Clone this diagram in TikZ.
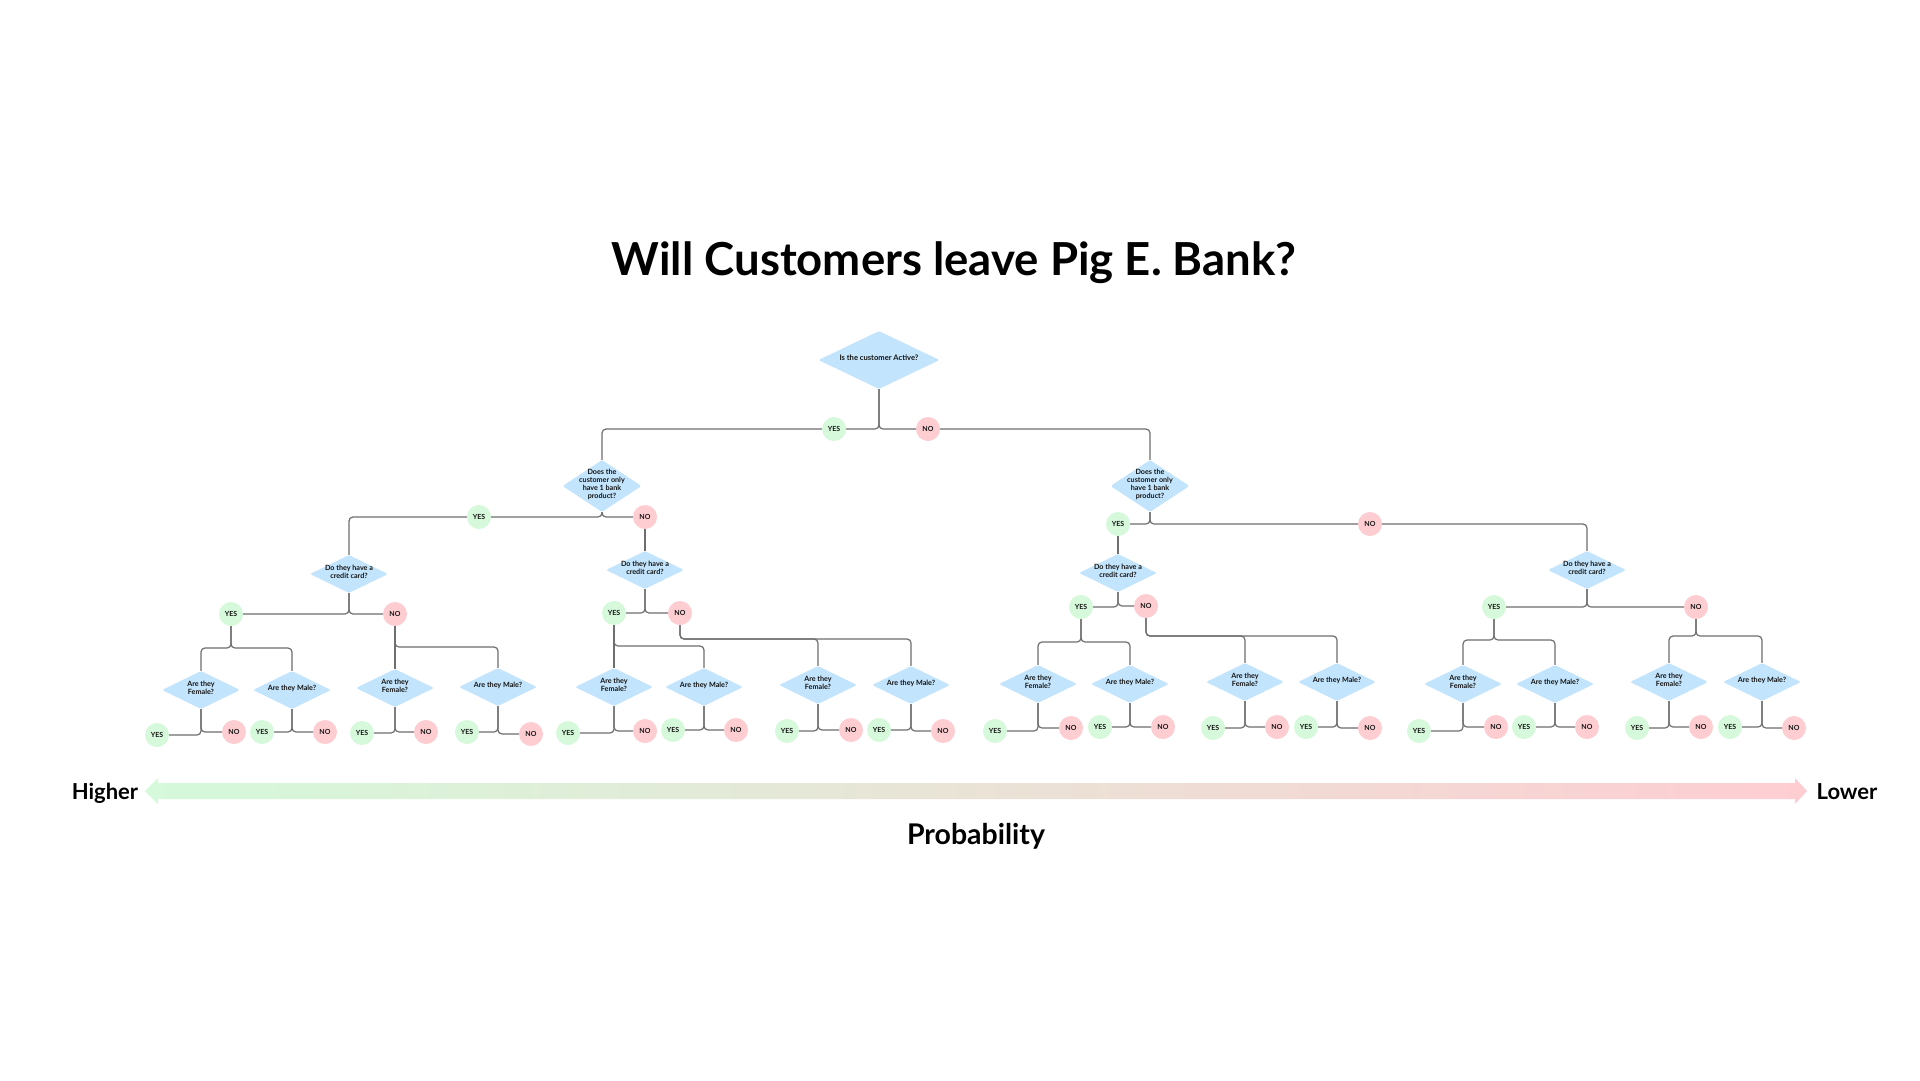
\documentclass[tikz,border=0pt]{standalone}
\usepackage{fontspec}
\setmainfont{Lato}
\usetikzlibrary{shapes.geometric}
\pgfdeclarelayer{background}
\pgfdeclarelayer{canvas}
\pgfsetlayers{canvas,background,main}
\definecolor{qblue}{HTML}{C2E4FC}
\definecolor{yesg}{HTML}{D5F9DA}
\definecolor{nopk}{HTML}{FECDD2}
\definecolor{lgrey}{HTML}{6E6E6E}
\definecolor{ink}{HTML}{141414}
\newcommand\qtxt[1]{\makebox[0pt]{\smash{\raisebox{-0.7pt}{\begin{tabular}{@{}c@{}}#1\end{tabular}}}}}
\newcommand\qfont{\fontsize{7.2}{8.2}\selectfont\bfseries}
\newcommand\rfont{\fontsize{7.6}{8.6}\selectfont\bfseries}
\newcommand\cfont{\fontsize{7}{8}\selectfont\bfseries}
\tikzset{
  qd/.style={diamond, fill=qblue, rounded corners=1.5pt, minimum width=78pt, minimum height=38pt, inner sep=0pt, font=\qfont, text=ink},
  qdmid/.style={qd, minimum width=79pt, minimum height=52pt},
  qdroot/.style={qd, minimum width=121pt, minimum height=58pt, font=\rfont},
  cy/.style={circle, fill=yesg, minimum size=24pt, inner sep=0pt, font=\cfont, text=ink},
  cn/.style={circle, fill=nopk, minimum size=24pt, inner sep=0pt, font=\cfont, text=ink},
  conn/.style={draw=lgrey, line width=1.2pt, rounded corners=4pt},
}
% name, x, y, text, yes x, yes y, no x, no y
\newcommand\gq[8]{%
  \node[qd] (#1) at (#2,#3) {\qtxt{#4}};
  \node[cy] (#1y) at (#5,#6) {YES};
  \node[cn] (#1n) at (#7,#8) {NO};
  \begin{pgfonlayer}{background}
    \draw[conn] (#1.south) |- (#1y);
    \draw[conn] (#1.south) |- (#1n);
  \end{pgfonlayer}}
\begin{document}
\begin{tikzpicture}[x=1pt,y=-1pt]
\begin{pgfonlayer}{canvas}
\fill[white] (0,0) rectangle (1920,1080);
\end{pgfonlayer}
\useasboundingbox (0,0) rectangle (1920,1080);

% title
\node[anchor=base, text=black, font=\fontsize{45.5}{50}\selectfont\bfseries] (title) at (954,275) {Will Customers leave Pig E. Bank?};

% root
\node[qdroot] (root) at (879,360) {\qtxt{Is the customer Active?}};
\node[cy] (rY) at (834,429) {YES};
\node[cn] (rN) at (928,429) {NO};

% level 1
\node[qdmid] (L) at (602,486) {\qtxt{Does the\\customer only\\have 1 bank\\product?}};
\node[qdmid] (R) at (1150,486) {\qtxt{Does the\\customer only\\have 1 bank\\product?}};
\node[cy] (lY) at (479,517) {YES};
\node[cn] (lN) at (645,517) {NO};
\node[cy] (RY) at (1118,524) {YES};
\node[cn] (RN) at (1370,524) {NO};

% credit card questions
\gq{cA}{349}{574}{Do they have a\\credit card?}{231}{614}{395}{614}
\gq{cB}{645}{570}{Do they have a\\credit card?}{614}{613}{680}{613}
\gq{cC}{1118}{573}{Do they have a\\credit card?}{1081}{607}{1146}{606}
\gq{cD}{1587}{570}{Do they have a\\credit card?}{1494}{607}{1696}{607}

% gender questions
\gq{F1}{201}{690}{Are they\\Female?}{157}{735}{234}{732}
\gq{M1}{292}{690}{Are they Male?}{262}{732}{325}{732}
\gq{F2}{395}{688}{Are they\\Female?}{362}{733}{426}{732}
\gq{M2}{498}{687}{Are they Male?}{467}{732}{531}{734}
\gq{F3}{614}{687}{Are they\\Female?}{568}{733}{645}{731}
\gq{M3}{704}{687}{Are they Male?}{673}{730}{736}{730}
\gq{F4}{818}{685}{Are they\\Female?}{787}{731}{851}{730}
\gq{M4}{911}{685}{Are they Male?}{879}{730}{943}{731}
\gq{F5}{1038}{684}{Are they\\Female?}{995}{731}{1071}{728}
\gq{M5}{1130}{684}{Are they Male?}{1100}{727}{1163}{727}
\gq{F6}{1245}{682}{Are they\\Female?}{1213}{728}{1277}{727}
\gq{M6}{1337}{682}{Are they Male?}{1306}{727}{1370}{728}
\gq{F7}{1463}{684}{Are they\\Female?}{1419}{731}{1496}{727}
\gq{M7}{1555}{684}{Are they Male?}{1524}{727}{1587}{727}
\gq{F8}{1669}{682}{Are they\\Female?}{1637}{728}{1701}{727}
\gq{M8}{1762}{682}{Are they Male?}{1730}{727}{1794}{728}

\begin{pgfonlayer}{background}
  % root
  \draw[conn] (root.south) |- (rY);
  \draw[conn] (root.south) |- (rN);
  \draw[conn] (rY) -| (L.north);
  \draw[conn] (rN) -| (R.north);
  % level 1
  \draw[conn] (L.south) |- (lY);
  \draw[conn] (L.south) |- (lN);
  \draw[conn] (R.south) |- (RY);
  \draw[conn] (R.south) |- (RN);
  \draw[conn] (lY) -| (cA.north);
  \draw[conn] (lN) -- (cB.north);
  \draw[conn] (RY) -- (cC.north);
  \draw[conn] (RN) -| (cD.north);
  % level 2
  \draw[conn] (cAy) -- (cAy |- 0,648) -| (F1.north);
  \draw[conn] (cAy) -- (cAy |- 0,648) -| (M1.north);
  \draw[conn] (cAn) -- (F2.north);
  \draw[conn] (cAn) -- (cAn |- 0,647) -| (M2.north);
  \draw[conn] (cBy) -- (F3.north);
  \draw[conn] (cBy) -- (cBy |- 0,646) -| (M3.north);
  \draw[conn] (cBn) -- (cBn |- 0,639) -| (F4.north);
  \draw[conn] (cBn) -- (cBn |- 0,639) -| (M4.north);
  \draw[conn] (cCy) -- (cCy |- 0,642) -| (F5.north);
  \draw[conn] (cCy) -- (cCy |- 0,642) -| (M5.north);
  \draw[conn] (cCn) -- (cCn |- 0,636) -| (F6.north);
  \draw[conn] (cCn) -- (cCn |- 0,636) -| (M6.north);
  \draw[conn] (cDy) -- (cDy |- 0,640) -| (F7.north);
  \draw[conn] (cDy) -- (cDy |- 0,640) -| (M7.north);
  \draw[conn] (cDn) -- (cDn |- 0,636) -| (F8.north);
  \draw[conn] (cDn) -- (cDn |- 0,636) -| (M8.north);
\end{pgfonlayer}

% probability scale
\shade[left color=yesg, right color=nopk]
  (145,791) -- (158,778) -- (158,783) -- (1795,783) -- (1795,778) -- (1807,791)
  -- (1795,804) -- (1795,799) -- (158,799) -- (158,804) -- cycle;
\node[anchor=base, font=\fontsize{22}{26}\selectfont\bfseries] (higher) at (105,799) {Higher};
\node[anchor=base, font=\fontsize{22}{26}\selectfont\bfseries] (lower) at (1847,799) {Lower};
\node[anchor=base, font=\fontsize{28.5}{32}\selectfont\bfseries] (prob) at (976,844) {Probability};
\end{tikzpicture}
\end{document}
